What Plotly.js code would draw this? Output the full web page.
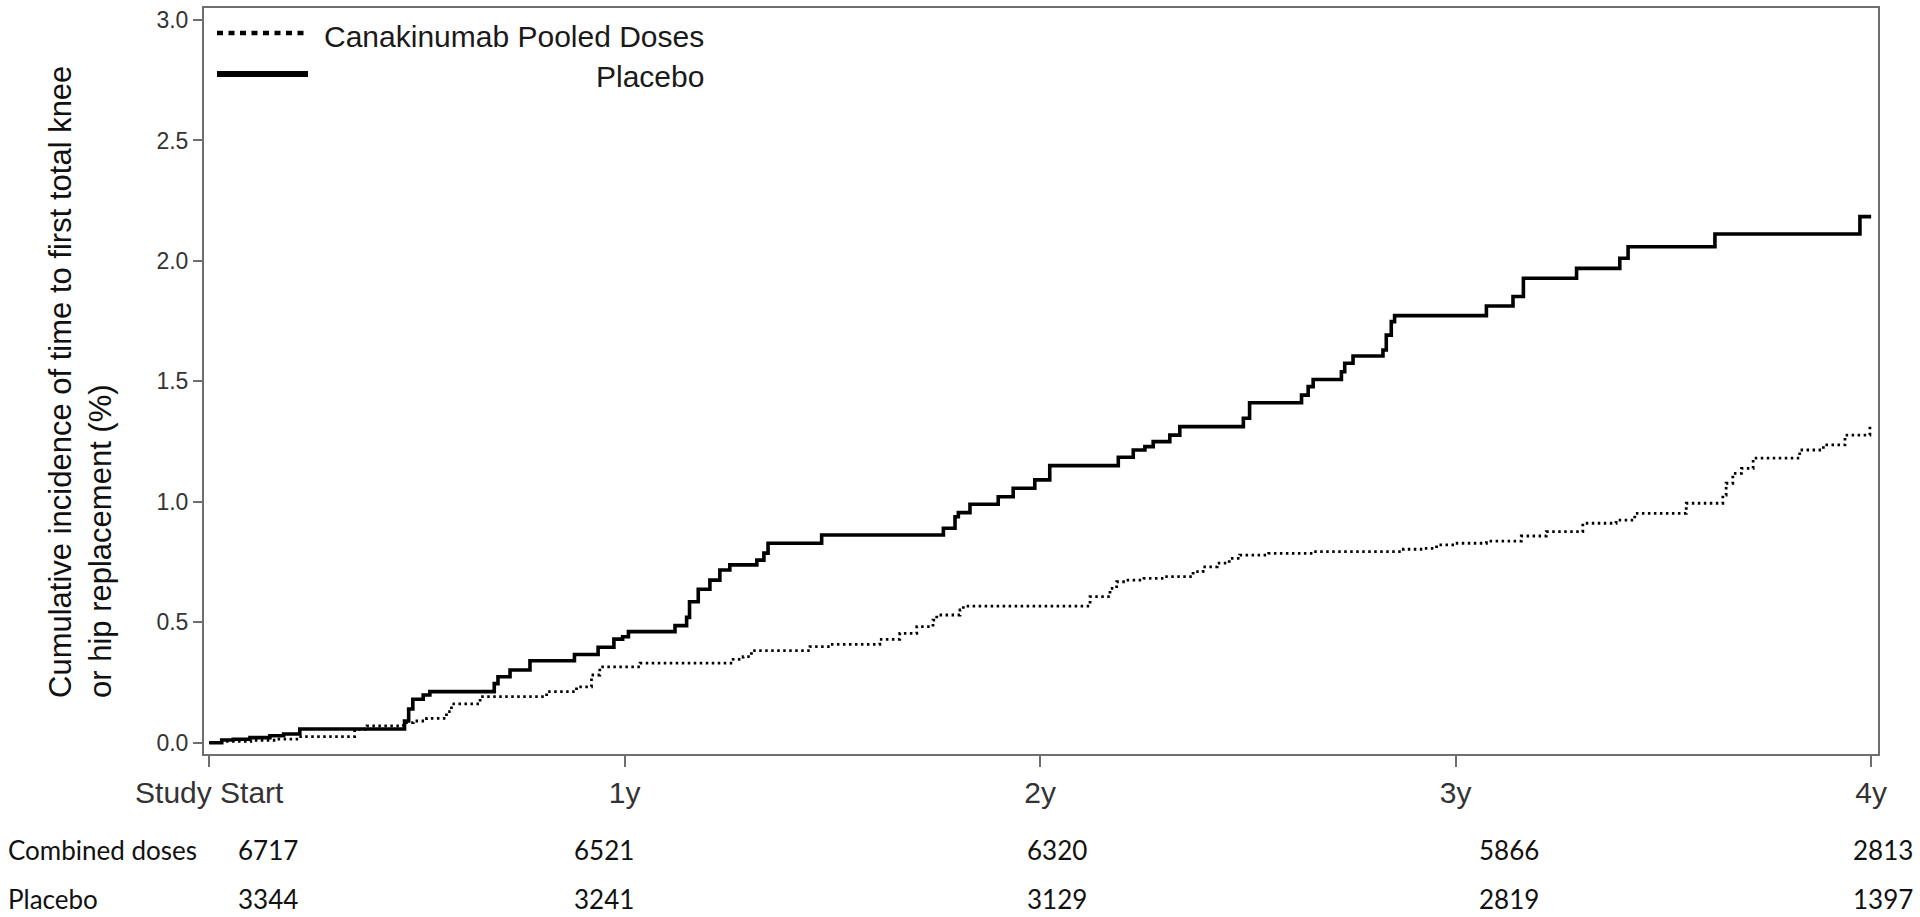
<!DOCTYPE html>
<html>
<head>
<meta charset="utf-8">
<script src="https://cdn.plot.ly/plotly-3.0.1.min.js"></script>
<style>
  html, body { margin: 0; padding: 0; background: #ffffff; }
  #chart { width: 1920px; height: 917px; }
</style>
</head>
<body>
<div id="chart"></div>
<script>
// ---------------- data ----------------
const seriesNames = ['Canakinumab Pooled Doses', 'Placebo'];

// Time in years since study start; values = cumulative incidence (%)
const canakTime = [0, 0.03, 0.10, 0.16, 0.22, 0.35, 0.38, 0.467, 0.491, 0.523, 0.571, 0.583, 0.652, 0.812, 0.884, 0.92, 0.94, 1.037, 1.261, 1.285, 1.305, 1.446, 1.494, 1.614, 1.662, 1.703, 1.742, 1.751, 1.807, 1.815, 2.12, 2.168, 2.184, 2.208, 2.25, 2.30, 2.368, 2.392, 2.426, 2.455, 2.48, 2.55, 2.657, 2.874, 2.92, 2.954, 3.0, 3.074, 3.158, 3.218, 3.306, 3.386, 3.431, 3.555, 3.643, 3.651, 3.667, 3.688, 3.716, 3.828, 3.885, 3.937, 3.997, 4.0];
const canakValue = [0, 0.005, 0.010, 0.015, 0.025, 0.055, 0.070, 0.083, 0.090, 0.101, 0.129, 0.161, 0.191, 0.212, 0.232, 0.281, 0.315, 0.330, 0.346, 0.357, 0.382, 0.399, 0.408, 0.429, 0.454, 0.482, 0.509, 0.530, 0.551, 0.567, 0.606, 0.641, 0.668, 0.675, 0.682, 0.689, 0.710, 0.730, 0.745, 0.765, 0.779, 0.786, 0.793, 0.803, 0.807, 0.821, 0.828, 0.837, 0.858, 0.876, 0.911, 0.924, 0.952, 0.994, 1.028, 1.077, 1.118, 1.139, 1.181, 1.215, 1.236, 1.277, 1.312, 1.312];

const placeboTime = [0, 0.03, 0.058, 0.098, 0.146, 0.179, 0.218, 0.47, 0.48, 0.49, 0.515, 0.531, 0.686, 0.695, 0.724, 0.772, 0.879, 0.936, 0.974, 0.995, 1.009, 1.121, 1.149, 1.156, 1.177, 1.205, 1.229, 1.253, 1.318, 1.335, 1.345, 1.474, 1.767, 1.795, 1.803, 1.831, 1.899, 1.935, 1.987, 2.023, 2.188, 2.224, 2.252, 2.272, 2.312, 2.336, 2.489, 2.504, 2.629, 2.645, 2.657, 2.725, 2.733, 2.753, 2.825, 2.833, 2.845, 2.853, 3.074, 3.138, 3.163, 3.291, 3.395, 3.415, 3.624, 3.973, 4.0];
const placeboValue = [0, 0.011, 0.014, 0.021, 0.029, 0.036, 0.057, 0.090, 0.140, 0.180, 0.198, 0.212, 0.245, 0.274, 0.302, 0.340, 0.366, 0.396, 0.430, 0.440, 0.461, 0.486, 0.520, 0.585, 0.637, 0.675, 0.717, 0.738, 0.758, 0.787, 0.828, 0.862, 0.890, 0.938, 0.955, 0.990, 1.021, 1.056, 1.091, 1.150, 1.185, 1.215, 1.229, 1.250, 1.277, 1.312, 1.347, 1.411, 1.443, 1.478, 1.508, 1.540, 1.575, 1.605, 1.630, 1.692, 1.748, 1.773, 1.813, 1.852, 1.928, 1.969, 2.011, 2.059, 2.112, 2.184, 2.184];

const timeTicks = [0, 1, 2, 3, 4];
const timeTickLabels = ['Study Start', '1y', '2y', '3y', '4y'];
const yTicks = [0, 0.5, 1.0, 1.5, 2.0, 2.5, 3.0];

const riskGroups = ['Combined doses', 'Placebo'];
const riskCombined = [6717, 6521, 6320, 5866, 2813];
const riskPlacebo = [3344, 3241, 3129, 2819, 1397];

const yTitle = 'Cumulative incidence of time to first total knee<br>or hip replacement (%)';

// ---------------- layout helpers (pixel geometry of the page) ----------------
const W = 1920, H = 917;
const PL = 204, PR = 1878, PT = 8, PB = 754;
const fx = px => (px - PL) / (PR - PL);
const fy = py => (PB - py) / (PB - PT);

const axisFont = { family: 'Liberation Sans, Arial, sans-serif', color: '#333333' };
const tableFont = { family: 'Lato, Carlito, Calibri, sans-serif', size: 26, color: '#111111' };
const frameColor = '#6e6e6e';

const traces = [
  {
    x: canakTime, y: canakValue, name: seriesNames[0], type: 'scatter', mode: 'lines',
    line: { shape: 'hv', color: '#000000', width: 2.8, dash: '2.5px,3.5px' },
    hoverinfo: 'x+y+name'
  },
  {
    x: placeboTime, y: placeboValue, name: seriesNames[1], type: 'scatter', mode: 'lines',
    line: { shape: 'hv', color: '#000000', width: 3.6 },
    hoverinfo: 'x+y+name'
  }
];

const annotations = [];
const shapes = [];

// custom legend (text right-aligned as in the original)
const legendTextRight = 706;
const legendRows = [33, 74];
[0, 1].forEach(i => {
  annotations.push({
    xref: 'paper', yref: 'paper', x: fx(legendTextRight), y: fy(legendRows[i] + 3),
    xanchor: 'right', yanchor: 'middle', showarrow: false, text: seriesNames[i],
    font: Object.assign({}, axisFont, { size: 30, color: '#1a1a1a' })
  });
});
shapes.push({
  type: 'line', xref: 'paper', yref: 'paper',
  x0: fx(217), x1: fx(308), y0: fy(legendRows[0]), y1: fy(legendRows[0]),
  line: { color: '#000000', width: 4.5, dash: '6px,5.5px' }
});
shapes.push({
  type: 'line', xref: 'paper', yref: 'paper',
  x0: fx(217), x1: fx(308), y0: fy(legendRows[1]), y1: fy(legendRows[1]),
  line: { color: '#000000', width: 6 }
});

// y-axis title (two lines, start-aligned)
annotations.push({
  xref: 'paper', yref: 'paper', x: fx(80), y: fy(382),
  xanchor: 'center', yanchor: 'middle', showarrow: false,
  textangle: -90, align: 'left', text: yTitle,
  font: { family: 'Liberation Sans, Arial, sans-serif', size: 31, color: '#111111' }
});

// number-at-risk table
const riskShift = [59, -21, 17, 53, 12];
const riskRowsPy = [850, 899];
[riskCombined, riskPlacebo].forEach((row, r) => {
  annotations.push({
    xref: 'paper', yref: 'paper', x: fx(7), y: fy(riskRowsPy[r]),
    xanchor: 'left', yanchor: 'middle', showarrow: false, borderpad: 0,
    text: riskGroups[r], font: tableFont
  });
  row.forEach((n, i) => {
    annotations.push({
      xref: 'x', yref: 'paper', x: timeTicks[i], xshift: riskShift[i], y: fy(riskRowsPy[r]),
      xanchor: 'center', yanchor: 'middle', showarrow: false, borderpad: 0,
      text: String(n), font: tableFont
    });
  });
});

const layout = {
  width: W, height: H,
  margin: { l: PL, r: W - PR, t: PT, b: H - PB, pad: 0 },
  paper_bgcolor: '#ffffff', plot_bgcolor: '#ffffff',
  showlegend: false,
  xaxis: {
    range: [-0.0126, 4.0165], tickmode: 'array', tickvals: timeTicks, ticktext: timeTickLabels,
    showgrid: false, zeroline: false, showline: true, mirror: true,
    linecolor: frameColor, linewidth: 2,
    ticks: 'outside', ticklen: 11, tickwidth: 2, tickcolor: frameColor,
    tickfont: Object.assign({}, axisFont, { size: 30 })
  },
  yaxis: {
    range: [-0.047, 3.05], tickmode: 'array', tickvals: yTicks, tickformat: '.1f',
    showgrid: false, zeroline: false, showline: true, mirror: true,
    linecolor: frameColor, linewidth: 2,
    ticks: 'outside', ticklen: 9, tickwidth: 2, tickcolor: frameColor,
    tickfont: Object.assign({}, axisFont, { size: 23 })
  },
  annotations: annotations,
  shapes: shapes
};

Plotly.newPlot('chart', traces, layout, { displayModeBar: false, staticPlot: false });
</script>
</body>
</html>
